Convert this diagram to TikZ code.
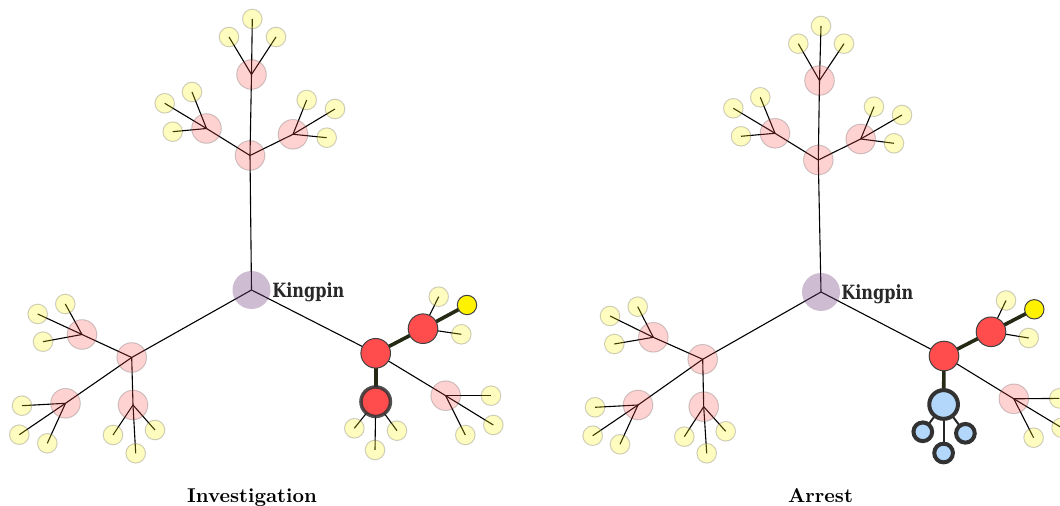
\documentclass[tikz,border=0pt]{standalone}
\usepackage{fontspec}
\newfontfamily\slabfont[FakeStretch=0.82]{DejaVu Serif}
\definecolor{hotred}{RGB}{255,77,77}
\definecolor{kingdeep}{RGB}{115,64,126}
\definecolor{arrestblue}{RGB}{178,215,250}
\definecolor{linkcol}{RGB}{36,42,20}
\definecolor{ringcol}{RGB}{50,50,50}
\definecolor{textcol}{RGB}{40,40,40}
\pgfdeclarelayer{bg}
\pgfsetlayers{bg,main}
\tikzset{
  vertex/.style={circle, inner sep=0pt, outer sep=0pt, draw=black!75, line width=.5pt},
  leaf/.style={vertex, minimum size=9.8pt, fill=yellow, opacity=.25},
  cell/.style={vertex, minimum size=14.8pt, fill=hotred, opacity=.25},
  suspect/.style={vertex, minimum size=14.8pt, fill=hotred},
  lead/.style={vertex, minimum size=9.7pt, fill=yellow},
  watched/.style={suspect, minimum size=14.75pt, draw=ringcol, draw opacity=.85, line width=1.75pt},
  kingpin/.style={circle, inner sep=0pt, minimum size=19pt, fill=kingdeep, fill opacity=.35},
  arrested/.style={vertex, minimum size=14.35pt, fill=arrestblue, draw=ringcol, line width=2pt},
  cuffed/.style={arrested, minimum size=9.35pt},
  kinglabel/.style={inner sep=0pt, text=textcol, font=\slabfont\bfseries\fontsize{9.8}{10}\selectfont},
  caption/.style={inner sep=0pt, font=\bfseries},
  link/.style={line width=.55pt, black},
  hotlink/.style={line width=1.8pt, linkcol},
  cufflink/.style={line width=1pt, black!85}
}
\begin{document}
\begin{tikzpicture}[x=.5pt, y=-.5pt]
\useasboundingbox (0,0) rectangle (1060,506);

% Investigation
\node[kingpin] (ak) at (251.5,290) {};
\node[kinglabel, anchor=base west] (aklabel) at (272,297.5) {Kingpin};
\foreach \n/\x/\y in {atop/251.5/74.5, amid/250/155.5, aml/206.5/128.5, amr/293/134.3,
    ahub/131.7/357.5, ahu/82/334.5, ahd/65.5/403.3, ahs/133/405, aD/445.7/395.7}
  \node[cell] (\n) at (\x,\y) {};
\foreach \n/\x/\y in {atop1/252.3/19, atop2/229/37, atop3/276/37,
    aml1/164.7/103.3, aml2/192/92, aml3/172.7/131.7,
    amr1/306.7/100, amr2/335/109, amr3/326.7/137.7,
    ahu1/37.7/314, ahu2/65.3/304, ahu3/43/341.7,
    ahd1/22/405.7, ahd2/19.3/434.7, ahd3/47.3/443.3,
    ahs1/113/435, ahs2/155/430, ahs3/135.7/453.3,
    aD1/491/395.7, aD2/493.3/425, aD3/465.3/435,
    aB1/438.7/296.7, aB2/461.3/334.3,
    aC1/354.3/428.3, aC2/397/430.7, aC3/375/450}
  \node[leaf] (\n) at (\x,\y) {};
\node[suspect] (aA) at (375.7,353.3) {};
\node[suspect] (aB) at (423,328.7) {};
\node[lead] (aY) at (467,305) {};
\node[watched] (aC) at (375.7,401.7) {};
\node[caption, anchor=base] (acap) at (252,502.5) {Investigation};

% Arrest
\node[kingpin] (bk) at (821,292) {};
\node[kinglabel, anchor=base west] (bklabel) at (841,299.5) {Kingpin};
\foreach \n/\x/\y in {btop/819.5/80.5, bmid/818.3/160, bml/775/133.3, bmr/860.7/139,
    bhub/702.7/359.3, bhu/653.3/337.3, bhd/638/405, bhs/703.7/406.7, bD/1013.8/398.8}
  \node[cell] (\n) at (\x,\y) {};
\foreach \n/\x/\y in {btop1/821/26, btop2/798.3/43.7, btop3/844/43.7,
    bml1/733.3/108.3, bml2/760.3/97.3, bml3/741/136.3,
    bmr1/874/106.7, bmr2/902/115, bmr3/894/143.3,
    bhu1/610/316, bhu2/637.7/306.7, bhu3/614.3/344,
    bhd1/595/407.3, bhd2/592.7/435.7, bhd3/620/444.3,
    bhs1/684.3/436.7, bhs2/725.7/431.3, bhs3/706.7/453.3,
    bD1/1059.3/398.4, bD2/1061.6/427.7, bD3/1033.6/437.7,
    bB1/1006/300.5, bB2/1028.7/338}
  \node[leaf] (\n) at (\x,\y) {};
\node[suspect] (bA) at (944,356) {};
\node[suspect] (bB) at (991,331.8) {};
\node[lead] (bY) at (1034.3,309.3) {};
\node[arrested] (bE) at (943.6,404.5) {};
\node[cuffed] (bE1) at (922.8,431.8) {};
\node[cuffed] (bE2) at (965.4,433.3) {};
\node[cuffed] (bE3) at (943.6,453) {};
\node[caption, anchor=base] (bcap) at (820.5,502.5) {Arrest};

\begin{pgfonlayer}{bg}
\foreach \t in {a,b}{
  \foreach \u/\v in {k/mid, mid/top, mid/ml, mid/mr, k/hub, hub/hu, hub/hd, hub/hs, k/A, A/D, B/B1, B/B2}
    \draw[link] (\t\u.center) -- (\t\v.center);
  \foreach \u in {top,ml,mr,hu,hd,hs,D}
    \foreach \i in {1,2,3}
      \draw[link] (\t\u.center) -- (\t\u\i.center);
  \draw[hotlink] (\t A.center) -- (\t B.center);
  \draw[hotlink] (\t B.center) -- (\t Y.center);
}
\draw[hotlink] (aA.center) -- (aC.center);
\foreach \i in {1,2,3} \draw[link] (aC.center) -- (aC\i.center);
\draw[hotlink] (bA.center) -- (bE.center);
\foreach \i in {1,2,3} \draw[cufflink] (bE.center) -- (bE\i.center);
\end{pgfonlayer}
\end{tikzpicture}
\end{document}
